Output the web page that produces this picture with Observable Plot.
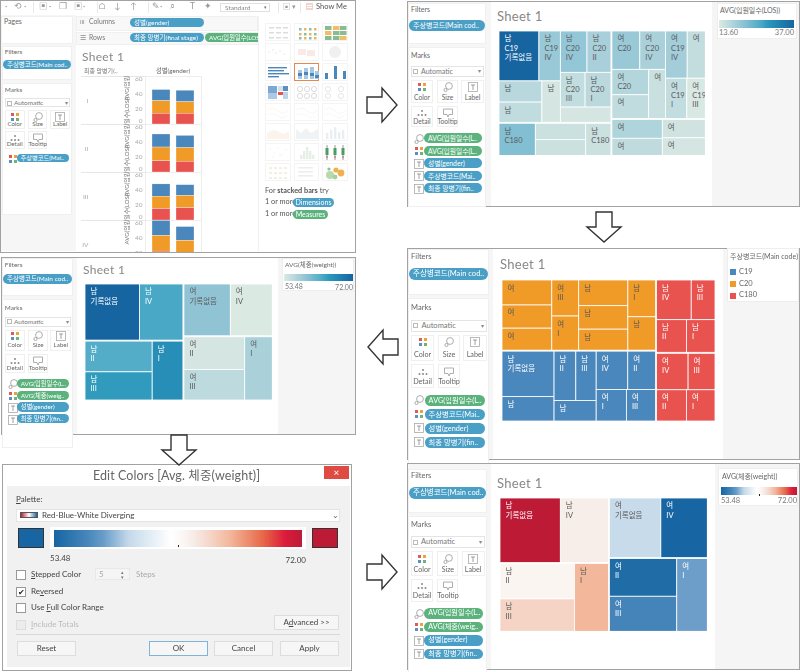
<!DOCTYPE html>
<html><head><meta charset="utf-8">
<script src="https://cdn.jsdelivr.net/npm/d3@7"></script>
<script src="https://cdn.jsdelivr.net/npm/@observablehq/plot@0.6"></script>
<style>
html,body{margin:0;padding:0;background:#fff}
#root{position:relative;width:800px;height:672px;overflow:hidden;font-family:Lato,"Noto Sans CJK KR",sans-serif;color:#555;filter:blur(.35px)}
#root div{position:absolute;box-sizing:border-box;white-space:nowrap}
#root svg{display:block}
.pill{border-radius:6px;color:#fff;overflow:hidden;text-align:left;padding-left:4px}
u{text-decoration:underline}
</style></head><body><div id="root"></div>
<script>
// ---------- data ----------
const row = (...c) => ["h", ...c], col = (...c) => ["v", ...c];
const FONT = 'Lato,"Noto Sans CJK KR",sans-serif';

// Treemap A: size and colour = AVG(LOS)
const losA = [37.1,19.9,16.9,16.1,14.2,20.5,18.4,16.0,16.7,14.3,21.9,15.2,15.2,15.2,19.9,18.3,17.4,16.2,15.3,19.1,15.9,16.0,13.8,17.7,16.3,14.7,14.3];
const labelsA = ["남\nC19\n기록없음","남\nC19\nIV","남","남","남","남\nC20\nIV","남\nC20\nII","남\nC20\nIII","남\nC20\nI","","남\nC180","","","남\nC180","여\nC20","여\nC20\nIV","여\nC20","여","여","여\nC19\nIV","여","여\nC19\nI","여\nC19\nIII","여","여","여","여"];
const treeA = row(
  col(row(col(row(0,1),row(col(2,3),4)),col(row(5,6),row(7,8),9)),row(10,col(11,12),13)),
  col(row(col(row(14,15),row(col(16,17),18)),col(row(19,20),row(21,22))),row(col(23,24),col(25,26))));

// Treemap B: size = AVG(LOS), colour = main code
const losB = [19.9,18.5,17.5,15.5,14.7,20.2,18.5,16.5,16.3,14.8,37.9,20.3,17.2,16.1,13.8,19.4,17.1,15.2,14.7,22.0,15.1,15.6,14.9,18.4,15.7,14.9,14.3];
const codesB = ["C20","C20","C20","C20","C20","C20","C20","C20","C20","C20","C19","C19","C19","C19","C19","C19","C19","C19","C19","C180","C180","C180","C180","C180","C180","C180","C180"];
const labelsB = ["여","여","여","여\nIII","여\nI","남","남","남","남\nI","남","남\n기록없음","남","남\nII","남\nIII","남","여\nIV","여\nII","여\nI","여\nIII","남\nIV","남\nIII","남\nII","남\nI","여\nIV","여\nIII","여\nII","여\nI"];
const treeB = row(
  col(row(row(col(0,1,2),col(3,4)),row(col(5,6,7),col(8,9))),
      row(row(col(10,11),col(row(12,13),14)),col(row(15,16),row(17,18)))),
  col(col(row(19,20),row(21,22)),col(row(23,24),row(25,26))));
const codeNames = ["C19","C20","C180"];
const codeColors = ["#4a87bc","#f09a27","#e8534f"];

// Treemaps C and E: size = AVG(LOS), colour = AVG(weight)
const losC = [37.0,29.5,25.0,22.9,21.9,29.1,26.3,24.1,22.4,21.1];
const weightC = [72,63.8,63.2,65.2,66.6,59.2,53.48,53.9,55.8,57.2];
const labelsC = ["남\n기록없음","남\nIV","남\nII","남\nIII","남\nI","여\n기록없음","여\nIV","여\nII","여\nIII","여\nI"];
const treeC = row(col(row(0,1),row(col(2,3),4)),col(row(5,6),row(col(7,8),9)));

// Palettes
const losRange = [13.6,37], weightRange = [53.48,72];
const tealStops = [0,.3,.52,.65,1], tealColors = ["#dbe9e3","#92c5d6","#55aec8","#2b98bc","#1665a0"];
const divStops = [0,.14,.2,.3,.47,.52,.56,.63,.71,.84,.93,1];
const divColors = ["#1766a3","#4a88bc","#6b9dc9","#c4d9ea","#ffffff","#fbf6f3","#f7ece8","#f5d5c8","#f3b69a","#e76a4a","#dc1c3c","#bd1a36"];

// Stacked bars: one list per measure, row by row, colour order C19, C20, C180
const barStages = ["I","II","III","IV"];
const barGenders = ["여","남"];
const barFemale = [[14.5,16.4,14],[17,18,14.5],[16,16,15],[19.5,20.5,22]];
const barMale = [[15,15,14],[16,17.7,14],[14,16,16],[18,18,18]];
const yTicks = [20,40,60];

// ---------- helpers ----------
const root = document.getElementById("root");
function el(x,y,w,h,style="",html="",parent=root){
  const d=document.createElement("div");
  d.style.cssText=`left:${x}px;top:${y}px;width:${w}px;height:${h}px;${style}`;
  d.innerHTML=html; parent.appendChild(d); return d;
}
const txt=(x,y,s,size=7.5,color="#666",extra="")=>el(x,y-size*.7,240,size*1.4,`font-size:${size}px;line-height:${size*1.4}px;color:${color};${extra}`,s);
const scaleOf=(stops,colors,[lo,hi])=>({type:"linear",domain:stops.map(t=>lo+(hi-lo)*t),range:colors});

function layout(node,x0,y0,x1,y1,vals,depth,out){
  if(typeof node==="number"){out.push({i:node,x1:x0,y1:y0,x2:x1,y2:y1});return out;}
  const [dir,...kids]=node;
  const sum=n=>typeof n==="number"?vals[n]:n.slice(1).reduce((a,c)=>a+sum(c),0);
  const total=sum(node), gap=depth<2?1:0;
  const span=(dir==="h"?x1-x0:y1-y0)-gap*(kids.length-1);
  let p=dir==="h"?x0:y0;
  for(const k of kids){
    const s=span*sum(k)/total;
    if(dir==="h") layout(k,p,y0,p+s,y1,vals,depth+1,out);
    else layout(k,x0,p,x1,p+s,vals,depth+1,out);
    p+=s+gap;
  }
  return out;
}
function treemap(x,y,W,H,tree,vals,labels,colorVals,color,colorOf){
  const cells=layout(tree,0,0,W,H,vals,0,[]).map(c=>({...c,label:labels[c.i],v:colorVals[c.i]}));
  const plot=Plot.plot({width:W,height:H,margin:0,
    x:{domain:[0,W],range:[0,W],axis:null},y:{domain:[0,H],range:[0,H],axis:null},color,
    style:{background:"transparent",fontFamily:FONT},
    marks:[
      Plot.rect(cells,{x1:"x1",x2:"x2",y1:"y1",y2:"y2",fill:"v",stroke:"#fff",strokeWidth:.8}),
      Plot.text(cells,{x:"x1",y:"y1",text:"label",dx:5,dy:3.5,textAnchor:"start",lineAnchor:"top",fontSize:7.5,lineHeight:1.22,
        fill:d=>d3.lab(colorOf(d.v)).l<70?"#fff":"#5a5a5a"})
    ]});
  el(x,y,W,H).appendChild(plot);
}
function ramp(x,y,w,h,stops,colors,range){
  const [lo,hi]=range;
  const vals=d3.range(w*2+1).map(i=>lo+(hi-lo)*i/(w*2));
  const plot=Plot.plot({width:w,height:h,margin:0,x:{domain:range,range:[0,w],axis:null},
    color:scaleOf(stops,colors,range),style:{background:"transparent"},
    marks:[Plot.ruleX(vals,{x:d=>d,stroke:d=>d,strokeWidth:1})]});
  el(x,y,w,h).appendChild(plot);
}
const BLUE="#4a9fc6",GREEN="#5bb27c";
const ICONS={
 color:`<svg width="10" height="10"><rect x="1" y="1" width="3" height="3" fill="#e05a50"/><rect x="6" y="1" width="3" height="3" fill="#e9a33c"/><rect x="1" y="6" width="3" height="3" fill="#5a8fc0"/><rect x="6" y="6" width="3" height="3" fill="#72b27a"/></svg>`,
 size:`<svg width="10" height="10"><circle cx="6" cy="4" r="3.4" fill="none" stroke="#999" stroke-width=".8"/><circle cx="2.5" cy="8" r="1.6" fill="none" stroke="#999" stroke-width=".8"/></svg>`,
 label:`<svg width="10" height="10"><rect x=".5" y=".5" width="9" height="9" fill="none" stroke="#aaa" stroke-width=".8"/><path d="M3 3h4M5 3v5" stroke="#888" stroke-width=".8"/></svg>`,
 detail:`<svg width="10" height="10"><circle cx="5" cy="3" r="1" fill="#888"/><circle cx="1.5" cy="7" r="1" fill="#888"/><circle cx="5" cy="7" r="1" fill="#888"/><circle cx="8.5" cy="7" r="1" fill="#888"/></svg>`,
 tooltip:`<svg width="10" height="10"><path d="M.5 1h9v5.5H6L5 9 4 6.5H.5z" fill="none" stroke="#999" stroke-width=".8"/></svg>`
};
function sidebar({ox,oy,sx,sy,filter,pills}){
  const X=v=>ox+v*sx, Y=v=>oy+v*sy, fs=7*Math.min(1.08,Math.max(.92,sy));
  el(X(-1),Y(0),78*sx,41*sy,"background:#fff;border:1px solid #f0f0f0");
  el(X(-1),Y(44),78*sx,160*sy,"background:#fff;border:1px solid #f0f0f0");
  txt(X(2),Y(7),"Filters",fs);
  el(X(0),Y(17),76*sx,11*sy,`background:${BLUE};font-size:${fs}px;line-height:${11*sy}px`,filter).className="pill";
  txt(X(2),Y(53),"Marks",fs);
  el(X(2),Y(63),73*sx,11*sy,`background:#fff;border:1px solid #e4e4e4;font-size:${fs}px;line-height:${11*sy-2}px;padding-left:${9*sx}px;color:#777`,"Automatic");
  el(X(4),Y(66),5,5,"border:1px solid #bbb");
  txt(X(69),Y(68.5),"▾",6,"#888");
  const btn=(x,y,w,h,n,key)=>{
    el(X(x),Y(y),w*sx,h*sy,"background:#fff;border:1px solid #f0f0f0");
    const ic=el(X(x),Y(y+2),w*sx,10,"text-align:center",ICONS[key]);
    ic.firstChild.style.cssText="display:inline-block;vertical-align:top";
    const lh=fs*1.2;
    el(X(x),Y(y+h)-lh-2*sy,w*sx,lh,`text-align:center;font-size:${fs*.95}px;line-height:${lh}px;color:#666`,n);
  };
  btn(2,77,22,23,"Color","color");btn(28,77,21,23,"Size","size");btn(52,77,23,23,"Label","label");
  btn(2,103,22,21,"Detail","detail");btn(28,103,21,21,"Tooltip","tooltip");
  pills.forEach(([ic,s,c],i)=>{
    const y=130+i*12.6;
    el(X(5),Y(y+.5),10,10,"",ICONS[ic]);
    el(X(15),Y(y),58*sx,10*sy,`background:${c};font-size:${fs*.97}px;line-height:${10*sy}px`,s).className="pill";
  });
}
function panel(x,y,w,h,side,rightX,box){
  el(x,y,w,h,"background:#fff;border:1.5px solid #a2a2a2");
  el(x+1,y+1,side,h-2,"background:#f6f6f6");
  if(rightX){
    el(rightX,y+1,x+w-rightX-1,h-2,"background:#f5f5f5");
    el(box[0],box[1],box[2],box[3],"background:#fff;border:1px solid #eee");
  }
}
const AVG_LOS="AVG(입원일수(L..",AVG_W="AVG(체중(weig..",G="성별(gender)",ST="최종 망병기(fin..",MC="주상병코드(Mai..",FILT="주상병코드(Main cod..";

// ---------- panel 1: Tableau stacked bars ----------
{
  el(0,0,355.5,252.5,"background:#fff;border:1.5px solid #a2a2a2");
  el(1,15,75,236,"background:#f6f6f6");
  el(1,16,72,28,"background:#fff;border:1px solid #f0f0f0");
  txt(4,22,"Pages",7);
  sidebar({ox:3,oy:46,sx:.9,sy:.83,filter:FILT,pills:[["color",MC,BLUE]]});
  // toolbar
  const tools=[[8,"·"],[17,"⟲"],[27,"·"],[42,"▣"],[52,"·"],[62,"❐"],[77,"▣"],[86,"·"],[102,"⌂"],[117,"↓"],[133,"↑"],[155,"✎"],[163,"·"],[173,"⌕"],[193,"T"],[207,"✦"]];
  tools.forEach(([x,g])=>txt(x-3,7,g,8.5,"#999"));
  [33,97,148,278,300].forEach(x=>el(x,2,.7,11,"background:#e8e8e8"));
  el(220,2.5,50,9,"border:1px solid #e0e0e0;font-size:6.5px;line-height:7px;padding-left:4px;color:#888","Standard");
  txt(264,7,"▾",5,"#777");
  txt(283,7,"▣ ▾",7,"#999");
  txt(306,7,"▤",7,"#d06a4a");
  txt(316,7,"Show Me",7.5,"#555");
  // shelves
  el(76,16,182,15,"background:#f8f8f8;border:1px solid #f0f0f0");
  el(76,32,182,13,"background:#f8f8f8;border:1px solid #f0f0f0");
  txt(80,22,"iii",6.5,"#888");txt(89,22,"Columns",6.8,"#777");
  txt(80,37.5,"☰",6.5,"#888");txt(89,37.5,"Rows",6.8,"#777");
  el(130,18,74,9,`background:${BLUE};font-size:6.5px;line-height:9px`,"성별(gender)").className="pill";
  el(130,33,74,9,`background:${BLUE};font-size:6.5px;line-height:9px`,"최종 망병기(final stage)").className="pill";
  el(205,33,53,9,`background:${GREEN};font-size:6.3px;line-height:9px;border-radius:6px 0 0 6px`,"AVG(입원일수(LOS").className="pill";
  // sheet
  el(76,46,182,205,"background:#fff");
  txt(82,57.5,"Sheet 1",12,"#888","letter-spacing:.3px");
  txt(84,71.5,"최종 망병기(..",6,"#777");
  txt(156,71.5,"성별(gender)",6.3,"#666");
  barStages.forEach((s,i)=>el(81,75.5+48*i,64,.8,"background:#e6e6e6"));

  const bars=[];
  barStages.forEach((s,r)=>{
    barGenders.forEach((g,gi)=>{
      codeNames.forEach((c,ci)=>bars.push({stage:s,gender:g,code:c,value:(gi?barMale:barFemale)[r][ci]}));
    });
  });
  const bp=Plot.plot({width:122,height:192,marginLeft:65,marginRight:1,marginTop:0,marginBottom:0,
    x:{domain:barGenders,padding:.25,axis:null},y:{domain:[0,62.5],axis:null},
    fy:{domain:barStages,padding:0,axis:null},
    color:{domain:codeNames,range:codeColors},
    style:{background:"transparent",fontFamily:FONT,overflow:"visible"},
    marks:[
      Plot.frame({stroke:"#eeeeee"}),
      Plot.barY(bars,{x:"gender",y:"value",fill:"code",fy:"stage",order:["C180","C20","C19"],stroke:"#fff",strokeWidth:.3}),
      Plot.axisY({ticks:yTicks,tickSize:0,tickPadding:3,label:null,fontSize:6.5,color:"#aaa"}),
      Plot.axisY({ticks:[0],tickSize:0,tickPadding:3,label:null,fontSize:6.5,color:"#aaa",dy:-4}),
      Plot.axisFy({anchor:"left",tickSize:0,tickPadding:57,label:null,fontSize:6.5,color:"#aaa"}),
      Plot.text(barStages,{fy:d=>d,text:()=>"AVG(입원일수(LOS))",frameAnchor:"left",rotate:-90,dx:-18,fontSize:6,fill:"#777"})
    ]});
  const holder=el(80,75.6,124,176,"overflow:hidden");
  holder.appendChild(bp);

  // Show Me
  el(258,16,97,235,"background:#fff;border-left:1px solid #f0f0f0");
  const active=new Set(["2,0","1,0","0,2","1,2","2,2","0,3","1,3","2,3","2,6","2,7"]);
  const th=(c,r,body,sel)=>el(265+c*28.5,23+r*20,25.5,18,`background:#fff;border:${sel?"1px solid #e8884a":"1px solid #f4f4f4"}`,`<svg width="24" height="17" opacity="${active.has(c+","+r)?1:.5}">${body}</svg>`);
  const R=(x,y,w,h,f,o=1)=>`<rect x="${x}" y="${y}" width="${w}" height="${h}" fill="${f}" opacity="${o}"/>`;
  const C=(x,y,r,f,o=1,s)=>`<circle cx="${x}" cy="${y}" r="${r}" fill="${s?"none":f}" stroke="${s||"none"}" stroke-width=".6" opacity="${o}"/>`;
  const P=(d,s,o=.5)=>`<path d="${d}" fill="none" stroke="${s}" opacity="${o}" stroke-width=".7"/>`;
  th(0,0,[3,10,17].flatMap(x=>[3,8,13].map(y=>R(x,y,5,1.5,"#bbb"))).join(""));
  th(1,0,[4,9,14,19].flatMap((x,i)=>[4,9,13].map((y,j)=>R(x,y,2.5,2.5,(i+j)%2?"#e9a33c":"#6db27c",.8))).join(""));
  th(2,0,[2,10,17].flatMap((x,i)=>[2,7,12].map((y,j)=>R(x,y,6.5,4,(i+j)%3==1?"#f0b050":"#74b27c",.85))).join(""));
  th(0,1,[3,7,10,14,18].map((x,i)=>C(x,[8,6,9,7,10][i],.7,"#e5b5b0")).join(""));
  th(1,1,R(3,5,8,6,"#f5d6d0")+R(12,6,8,6,"#f5d6d0"));
  th(2,1,C(12,8,6,"#e4e0e0"));
  th(0,2,R(2,3,19,1.4,"#4a87bc")+R(2,6,16,1.4,"#4a87bc")+R(2,9,21,1.4,"#4a87bc")+R(2,12,11,1.4,"#4a87bc"));
  th(1,2,[3,9,15,20].map((x,i)=>R(x,[6,4,3,7][i],4,[9,11,12,8][i],"#a6c8e2")+R(x,[9,8,9,11][i],4,3,"#4a87bc")).join(""),true);
  th(2,2,R(2,9,3,6,"#4a87bc")+R(11,2,3,13,"#4a87bc")+R(20,7,3,8,"#4a87bc"));
  th(0,3,R(2,2,9,7,"#7ba9d4")+R(2,9,9,6,"#a9c9e6")+R(12,2,5,5,"#cfe0ee")+R(17,2,5,5,"#5a8fc0")+R(12,8,5,3,"#e8534f")+R(17,8,5,7,"#bcd4ea"));
  th(1,3,[5,12,19].flatMap(x=>[5,12].map(y=>C(x,y,2.6,"",.7,"#aaa"))).join(""));
  th(2,3,[5,18].flatMap(x=>[5,12].map(y=>C(x,y,2.6,"",.6,"#bbb"))).join(""));
  for(let c=0;c<3;c++) th(c,4,P("M1 6Q7 2 12 7T23 6","#eac9a0")+P("M1 11Q7 8 12 12T23 10","#c8d6e6"));
  th(0,5,`<path d="M1 9Q8 4 13 8T23 7V15H1z" fill="#f2dfc4" opacity=".7"/>`);
  th(1,5,`<path d="M1 5L6 9 11 4 16 9 23 5V15H1z" fill="#dbe2ea" opacity=".8"/>`);
  th(2,5,[3,7,11,15,19].map((x,i)=>R(x,[9,6,3,8,6][i],2.4,[6,9,12,7,9][i],"#d4dfe9")).join(""));
  th(0,6,[4,8,12,16,20,7,14].map((x,i)=>C(x,[5,9,4,10,6,13,12][i],.7,"#ddd")).join(""));
  th(1,6,[5,8,11,14,17].map((x,i)=>R(x,[11,7,3,7,11][i],2.4,[4,8,12,8,4][i],"#cfe0cf")).join(""));
  th(2,6,[4,12,20].map(x=>R(x-.3,1,.6,15,"#555")+R(x-1.5,4,3,7,"#4d9c62")+C(x,13,.8,"#c0504d")).join(""));
  th(0,7,[3,8,13,18].flatMap(x=>[3,8,13].map(y=>R(x,y,3,2,"#eadfc8"))).join(""));
  th(1,7,[3,7,11].map(y=>R(3,y,15,1.6,"#ddd")).join(""));
  th(2,7,C(7,11,4,"#b9d9a8")+C(13,6,2.6,"#f0b050")+C(18,9,3.4,"#f0b050")+C(12,13,2.4,"#a6cfa0")+C(6,5,1.6,"#8cc08c"));
  txt(265,191,"For <b>stacked bars</b> try",7.3,"#555");
  txt(265,202,"1 or more",7.3,"#555");txt(265,214,"1 or more",7.3,"#555");
  el(293,198,41,9,`background:${BLUE};font-size:7px;line-height:9px;text-align:center;padding:0`,"Dimensions").className="pill";
  el(293,210,35,9,`background:${GREEN};font-size:7px;line-height:9px;text-align:center;padding:0`,"Measures").className="pill";
}

// ---------- panel A ----------
panel(407,1,392.5,206,83,712,[717,3,80,36]);
sidebar({ox:409,oy:3,sx:1,sy:1,filter:FILT,pills:[["size",AVG_LOS,GREEN],["color",AVG_LOS,GREEN],["label",G,BLUE],["label",MC,BLUE],["label",ST,BLUE]]});
txt(497,16,"Sheet 1",13,"#888","letter-spacing:.3px");
treemap(499,30.7,206.3,124.7,treeA,losA,labelsA,losA,scaleOf(tealStops,tealColors,losRange),
  d3.scaleLinear().domain(tealStops.map(t=>losRange[0]+t*(losRange[1]-losRange[0]))).range(tealColors));
txt(720,11,"AVG(입원일수(LOS))",7,"#666");
ramp(719,20,75,8,tealStops,tealColors,losRange);
txt(719,33,"13.60",7.5,"#777");el(760,28,34,10,"text-align:right;font-size:7.5px;line-height:10px;color:#777","37.00");

// ---------- panel B ----------
panel(407,247.5,393,212,85,723,[727,248,72,54]);
sidebar({ox:409,oy:249,sx:1.04,sy:1.12,filter:FILT,pills:[["size",AVG_LOS,GREEN],["color",MC,BLUE],["label",G,BLUE],["label",ST,BLUE]]});
txt(500,264,"Sheet 1",13,"#888","letter-spacing:.3px");
treemap(502.3,280,213,141,treeB,losB,labelsB,codesB,{domain:codeNames,range:codeColors},
  d3.scaleOrdinal(codeNames,codeColors));
txt(730,257,"주상병코드(Main code)",7,"#666");
codeNames.forEach((c,i)=>{
  el(730,269+i*11.8,6,6,`background:${codeColors[i]}`);
  txt(739,272+i*11.8,c,7.5,"#666");
});

// ---------- panel D (teal) ----------
panel(1,256.5,354.5,178,75,278,[282,258,72,33]);
sidebar({ox:3,oy:258,sx:.91,sy:.93,filter:FILT,pills:[["size",AVG_LOS,GREEN],["color",AVG_W,GREEN],["label",G,BLUE],["label",ST,BLUE]]});
txt(83,270,"Sheet 1",12,"#888","letter-spacing:.3px");
treemap(84.7,284,187.3,116,treeC,losC,labelsC,weightC,scaleOf(tealStops,tealColors,weightRange),
  d3.scaleLinear().domain(tealStops.map(t=>weightRange[0]+t*(weightRange[1]-weightRange[0]))).range(tealColors));
txt(285,265,"AVG(체중(weight))",6.5,"#666");
ramp(284,274,69,7,tealStops,tealColors,weightRange);
txt(285,287,"53.48",7,"#777");el(320,282,33,10,"text-align:right;font-size:7px;line-height:10px;color:#777","72.00");

// ---------- panel E (diverging) ----------
panel(407,463,392.5,207,83,715,[718,468,80,38]);
sidebar({ox:409,oy:469,sx:1.01,sy:1.07,filter:FILT,pills:[["size",AVG_LOS,GREEN],["color",AVG_W,GREEN],["label",G,BLUE],["label",ST,BLUE]]});
txt(497,483,"Sheet 1",13,"#888","letter-spacing:.3px");
treemap(500,498,207.3,133.3,treeC,losC,labelsC,weightC,scaleOf(divStops,divColors,weightRange),
  d3.scaleLinear().domain(divStops.map(t=>weightRange[0]+t*(weightRange[1]-weightRange[0]))).range(divColors));
txt(722,477,"AVG(체중(weight))",7,"#666");
ramp(721,487,76,8,divStops,divColors,weightRange);
el(759,494,1,1.5,"background:#222");
txt(721,501,"53.48",7.5,"#777");el(763,496,34,10,"text-align:right;font-size:7.5px;line-height:10px;color:#777","72.00");

// ---------- Edit Colors dialog ----------
{
  el(2,464,349.5,206.5,"background:#fff;border:1.5px solid #a2a2a2");
  el(7,486,343,181,"background:#f1f1f1");
  el(2,466,349,20,"text-align:center;font-size:12.5px;line-height:20px;color:#666;letter-spacing:.1px","Edit Colors [Avg. 체중(weight)]");
  el(324,466,25,13,"background:#df4a43;color:#fff;text-align:center;font-size:10px;line-height:12px","×");
  txt(16,499.5,"<u>P</u>alette:",8,"#444");
  el(16,509,324,13,"background:#fff;border:1px solid #e4e4e4");
  el(20,512,18,6,"background:linear-gradient(90deg,#bd1a36,#fff 50%,#1766a3);border:1px solid #555");
  txt(42,515.5,"Red-Blue-White Diverging",8,"#444");
  txt(332,515.5,"⌄",8,"#666");
  el(50,527,256,22,"background:#fff");
  el(18,528,26,20,"background:#1766a3;border:1px solid #333");
  el(312,528,26,20,"background:#bd1a36;border:1px solid #333");
  ramp(54,530,248,17,divStops,divColors,weightRange);
  el(178,545,1,2,"background:#222");
  txt(50,559,"53.48",8,"#444");
  el(270,553.5,36,12,"text-align:right;font-size:8px;line-height:12px;color:#444","72.00");
  const box=(y,c,dis)=>el(16,y,10,10,`background:${dis?"#ececec":"#fff"};border:1px solid ${dis?"#ddd":"#999"};font-size:8px;line-height:8px;text-align:center;color:#222`,c?"✔":"");
  box(570);txt(31,574.5,"<u>S</u>tepped Color",8,"#444");
  el(95,568,35,12,"background:#f5f5f5;border:1px solid #e8e8e8;font-size:8px;line-height:10px;padding-left:3px;color:#aaa","5");
  txt(121,572,"▴",5,"#777");txt(121,577,"▾",5,"#777");
  txt(136,575,"Steps",8,"#aaa");
  box(587,true);txt(31,592,"Re<u>v</u>ersed",8,"#444");
  box(603);txt(31,608,"Use <u>F</u>ull Color Range",8,"#444");
  box(620,false,true);txt(31,624.5,"<u>I</u>nclude Totals",8,"#bbb");
  const b=(x,y,w,h,s,bc="#ddd")=>el(x,y,w,h,`background:#f6f6f6;border:1px solid ${bc};text-align:center;font-size:8px;line-height:${h-2}px;color:#444`,s);
  b(274,615,65,15,"A<u>d</u>vanced &gt;&gt;");
  el(16,634,324,.8,"background:#d8d8d8");
  b(17,641,59,15,"Reset");b(149,641,59,15,"OK","#7fb4d8");b(214,641,59,15,"Cancel");b(280,641,59,15,"Apply");
}

// ---------- arrows between panels ----------
{
  const shape="M0 9H15V0L30 17 15 34V25H0Z";
  const arrows=[[367,88,0],[587,212,90],[398,364,180],[162,435,90],[367,555,0]];
  const paths=arrows.map(([x,y,a])=>{
    const t=a===0?`translate(${x},${y})`:a===180?`translate(${x},${y}) rotate(180)`:`translate(${x+34},${y}) rotate(90)`;
    return `<path d="${shape}" transform="${t}" fill="#fff" stroke="#333" stroke-width="1.4"/>`;
  }).join("");
  el(0,0,800,672,"pointer-events:none",`<svg width="800" height="672">${paths}</svg>`);
}
</script></body></html>
